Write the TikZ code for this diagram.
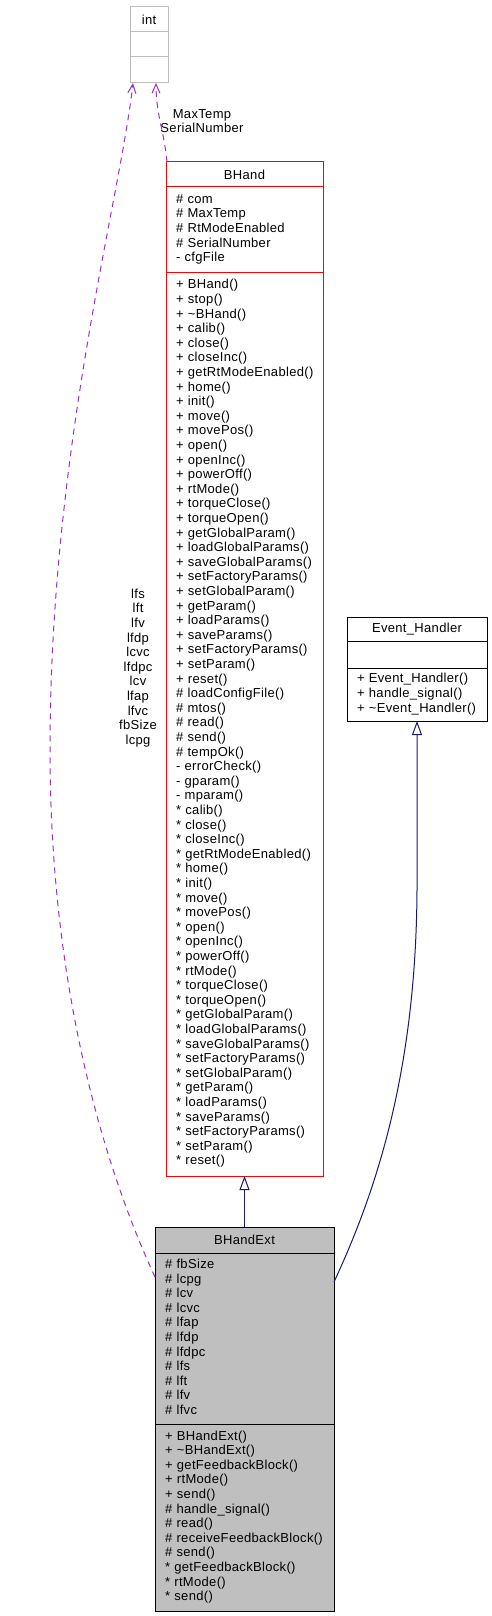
\documentclass[tikz,border=0pt]{standalone}
\usepackage{fontspec}
\newfontfamily\umlfont{Liberation Sans}[LetterSpace=2.5]
\usetikzlibrary{positioning,arrows.meta}

\definecolor{bhandred}{HTML}{FF0000}
\definecolor{intgrey}{HTML}{BFBFBF}
\definecolor{extfill}{HTML}{BFBFBF}
\definecolor{inheritblue}{HTML}{191970}
\definecolor{usagepurple}{HTML}{9A32CD}

\newcommand{\umltext}{\umlfont\fontsize{13pt}{14.6pt}\selectfont}
\newcommand{\memberlist}[1]{\begin{tabular}{@{}l@{}}#1\end{tabular}}

\tikzset{
  classbox/.style={draw, rectangle, line width=1pt, outer sep=0pt, inner xsep=10pt, inner ysep=0pt, font=\umltext},
  classtitle/.style={classbox, anchor=north west, align=center},
  classmembers/.style={classbox, align=left},
  inherit/.style={draw=inheritblue, line width=1pt, -{Triangle[open, length=14pt, width=10pt, fill=white]}},
  usage/.style={draw=usagepurple, line width=1pt, dash pattern=on 6pt off 5pt, -{Straight Barb[length=9pt, width=8pt]}},
  edgelabel/.style={font=\umltext, align=center, inner sep=0pt}
}

\begin{document}
\begin{tikzpicture}[x=1pt, y=-1pt]
		\useasboundingbox (0,0) rectangle (491,1616);

		% int
		\node[classtitle, draw=intgrey, text width=18pt, minimum height=25pt] (int) at (130,7) {int};
		\node[classmembers, draw=intgrey, text width=18pt, minimum height=25pt, below=0pt of int] (intattr) {};
		\node[classmembers, draw=intgrey, text width=18pt, minimum height=26pt, below=0pt of intattr] (intops) {};

		% BHand
		\node[classtitle, draw=bhandred, text width=137pt, minimum height=25pt] (bhand) at (166,162) {BHand};
		\node[classmembers, draw=bhandred, text width=137pt, minimum height=85pt, below=0pt of bhand] (bhandattr) {\memberlist{\# com\\\# MaxTemp\\\# RtModeEnabled\\\# SerialNumber\\- cfgFile}};
		\node[classmembers, draw=bhandred, text width=137pt, minimum height=904pt, below=0pt of bhandattr] (bhandops) {\memberlist{+ BHand()\\+ stop()\\+ \textasciitilde BHand()\\+ calib()\\+ close()\\+ closeInc()\\+ getRtModeEnabled()\\+ home()\\+ init()\\+ move()\\+ movePos()\\+ open()\\+ openInc()\\+ powerOff()\\+ rtMode()\\+ torqueClose()\\+ torqueOpen()\\+ getGlobalParam()\\+ loadGlobalParams()\\+ saveGlobalParams()\\+ setFactoryParams()\\+ setGlobalParam()\\+ getParam()\\+ loadParams()\\+ saveParams()\\+ setFactoryParams()\\+ setParam()\\+ reset()\\\# loadConfigFile()\\\# mtos()\\\# read()\\\# send()\\\# tempOk()\\- errorCheck()\\- gparam()\\- mparam()\\{*} calib()\\{*} close()\\{*} closeInc()\\{*} getRtModeEnabled()\\{*} home()\\{*} init()\\{*} move()\\{*} movePos()\\{*} open()\\{*} openInc()\\{*} powerOff()\\{*} rtMode()\\{*} torqueClose()\\{*} torqueOpen()\\{*} getGlobalParam()\\{*} loadGlobalParams()\\{*} saveGlobalParams()\\{*} setFactoryParams()\\{*} setGlobalParam()\\{*} getParam()\\{*} loadParams()\\{*} saveParams()\\{*} setFactoryParams()\\{*} setParam()\\{*} reset()}};

		% Event_Handler
		\node[classtitle, text width=120pt, minimum height=24pt] (eh) at (347,617) {Event\_Handler};
		\node[classmembers, text width=120pt, minimum height=27pt, below=0pt of eh] (ehattr) {};
		\node[classmembers, text width=120pt, minimum height=53pt, below=0pt of ehattr] (ehops) {\memberlist{+ Event\_Handler()\\+ handle\_signal()\\+ \textasciitilde Event\_Handler()}};

		% BHandExt
		\node[classtitle, fill=extfill, text width=159pt, minimum height=26pt] (bhandext) at (155,1227) {BHandExt};
		\node[classmembers, fill=extfill, text width=159pt, minimum height=171pt, below=0pt of bhandext] (bhandextattr) {\memberlist{\# fbSize\\\# lcpg\\\# lcv\\\# lcvc\\\# lfap\\\# lfdp\\\# lfdpc\\\# lfs\\\# lft\\\# lfv\\\# lfvc}};
		\node[classmembers, fill=extfill, text width=159pt, minimum height=187pt, below=0pt of bhandextattr] (bhandextops) {\memberlist{+ BHandExt()\\+ \textasciitilde BHandExt()\\+ getFeedbackBlock()\\+ rtMode()\\+ send()\\\# handle\_signal()\\\# read()\\\# receiveFeedbackBlock()\\\# send()\\{*} getFeedbackBlock()\\{*} rtMode()\\{*} send()}};

		\node[edgelabel] (tempnames) at (202,121) {MaxTemp\\SerialNumber};
		\node[edgelabel] (extnames) at (138,668) {lfs\\lft\\lfv\\lfdp\\lcvc\\lfdpc\\lcv\\lfap\\lfvc\\fbSize\\lcpg};

		\draw[inherit] (bhandext.north) -- (bhandops.south);
		\draw[inherit] ([yshift=-29pt]bhandextattr.north east) .. controls (372,1200) and (416,1080) .. (417,890) -- (ehops.south);
		\draw[usage] ([yshift=-24pt]bhandextattr.north west) .. controls (110,1180) and (50,1000) .. (50,750) .. controls (50,450) and (120,200) .. ([xshift=3pt]intops.south west);
		\draw[usage] ([xshift=1pt]bhand.north west) .. controls (164,130) and (156,115) .. ([xshift=26pt]intops.south west);
		\end{tikzpicture}
\end{document}
